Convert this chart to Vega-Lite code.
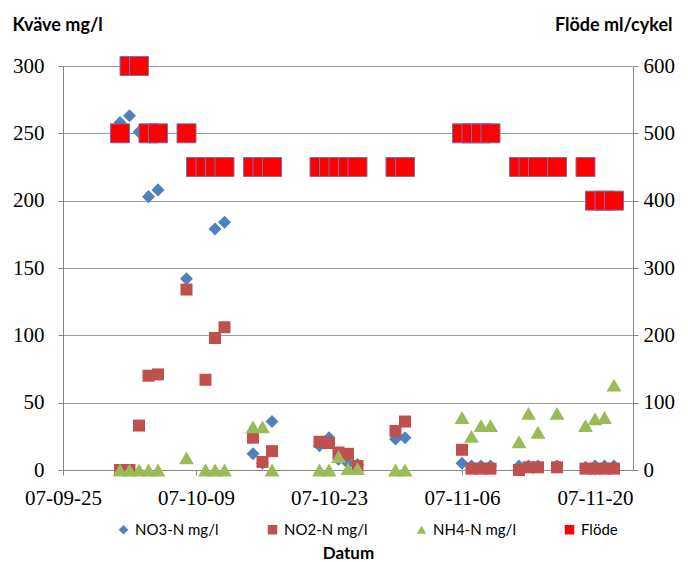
{
  "$schema": "https://vega.github.io/schema/vega-lite/v6.json",
  "width": 570,
  "height": 404,
  "autosize": {"type": "none"},
  "padding": {"left": 63, "top": 66, "right": 55, "bottom": 92},
  "background": "white",
  "config": {
    "view": {"stroke": null},
    "axis": {
      "domainColor": "#868686",
      "tickColor": "#868686",
      "gridColor": "#a0a0a0",
      "labelColor": "black",
      "titleColor": "black",
      "labelFont": "Liberation Serif",
      "labelFontSize": 21,
      "titleFont": "Lato",
      "titleFontWeight": "bold",
      "titleFontSize": 18,
      "tickSize": 5
    },
    "legend": {"labelFont": "Lato", "labelFontSize": 15, "labelColor": "black"}
  },
  "datasets": {
    "n": [
      {"date": "2007-10-01", "series": "NO3-N mg/l", "value": 258},
      {"date": "2007-10-02", "series": "NO3-N mg/l", "value": 263},
      {"date": "2007-10-03", "series": "NO3-N mg/l", "value": 251},
      {"date": "2007-10-04", "series": "NO3-N mg/l", "value": 203},
      {"date": "2007-10-05", "series": "NO3-N mg/l", "value": 208},
      {"date": "2007-10-08", "series": "NO3-N mg/l", "value": 142},
      {"date": "2007-10-11", "series": "NO3-N mg/l", "value": 179},
      {"date": "2007-10-12", "series": "NO3-N mg/l", "value": 184},
      {"date": "2007-10-15", "series": "NO3-N mg/l", "value": 12},
      {"date": "2007-10-16", "series": "NO3-N mg/l", "value": 5},
      {"date": "2007-10-17", "series": "NO3-N mg/l", "value": 36},
      {"date": "2007-10-22", "series": "NO3-N mg/l", "value": 18},
      {"date": "2007-10-23", "series": "NO3-N mg/l", "value": 24},
      {"date": "2007-10-24", "series": "NO3-N mg/l", "value": 8},
      {"date": "2007-10-25", "series": "NO3-N mg/l", "value": 5},
      {"date": "2007-10-26", "series": "NO3-N mg/l", "value": 4},
      {"date": "2007-10-30", "series": "NO3-N mg/l", "value": 23},
      {"date": "2007-10-31", "series": "NO3-N mg/l", "value": 24},
      {"date": "2007-11-06", "series": "NO3-N mg/l", "value": 5},
      {"date": "2007-11-07", "series": "NO3-N mg/l", "value": 3},
      {"date": "2007-11-08", "series": "NO3-N mg/l", "value": 3},
      {"date": "2007-11-09", "series": "NO3-N mg/l", "value": 3},
      {"date": "2007-11-12", "series": "NO3-N mg/l", "value": 3},
      {"date": "2007-11-13", "series": "NO3-N mg/l", "value": 3},
      {"date": "2007-11-14", "series": "NO3-N mg/l", "value": 3},
      {"date": "2007-11-16", "series": "NO3-N mg/l", "value": 3},
      {"date": "2007-11-19", "series": "NO3-N mg/l", "value": 2},
      {"date": "2007-11-20", "series": "NO3-N mg/l", "value": 3},
      {"date": "2007-11-21", "series": "NO3-N mg/l", "value": 3},
      {"date": "2007-11-22", "series": "NO3-N mg/l", "value": 3},
      {"date": "2007-10-01", "series": "NO2-N mg/l", "value": 0},
      {"date": "2007-10-02", "series": "NO2-N mg/l", "value": 0},
      {"date": "2007-10-03", "series": "NO2-N mg/l", "value": 33},
      {"date": "2007-10-04", "series": "NO2-N mg/l", "value": 70},
      {"date": "2007-10-05", "series": "NO2-N mg/l", "value": 71},
      {"date": "2007-10-08", "series": "NO2-N mg/l", "value": 134},
      {"date": "2007-10-10", "series": "NO2-N mg/l", "value": 67},
      {"date": "2007-10-11", "series": "NO2-N mg/l", "value": 98},
      {"date": "2007-10-12", "series": "NO2-N mg/l", "value": 106},
      {"date": "2007-10-15", "series": "NO2-N mg/l", "value": 24},
      {"date": "2007-10-16", "series": "NO2-N mg/l", "value": 6},
      {"date": "2007-10-17", "series": "NO2-N mg/l", "value": 14},
      {"date": "2007-10-22", "series": "NO2-N mg/l", "value": 21},
      {"date": "2007-10-23", "series": "NO2-N mg/l", "value": 20},
      {"date": "2007-10-24", "series": "NO2-N mg/l", "value": 13},
      {"date": "2007-10-25", "series": "NO2-N mg/l", "value": 12},
      {"date": "2007-10-26", "series": "NO2-N mg/l", "value": 3},
      {"date": "2007-10-30", "series": "NO2-N mg/l", "value": 29},
      {"date": "2007-10-31", "series": "NO2-N mg/l", "value": 36},
      {"date": "2007-11-06", "series": "NO2-N mg/l", "value": 15},
      {"date": "2007-11-07", "series": "NO2-N mg/l", "value": 1},
      {"date": "2007-11-08", "series": "NO2-N mg/l", "value": 1},
      {"date": "2007-11-09", "series": "NO2-N mg/l", "value": 1},
      {"date": "2007-11-12", "series": "NO2-N mg/l", "value": 0},
      {"date": "2007-11-13", "series": "NO2-N mg/l", "value": 2},
      {"date": "2007-11-14", "series": "NO2-N mg/l", "value": 2},
      {"date": "2007-11-16", "series": "NO2-N mg/l", "value": 2},
      {"date": "2007-11-19", "series": "NO2-N mg/l", "value": 1},
      {"date": "2007-11-20", "series": "NO2-N mg/l", "value": 1},
      {"date": "2007-11-21", "series": "NO2-N mg/l", "value": 1},
      {"date": "2007-11-22", "series": "NO2-N mg/l", "value": 1},
      {"date": "2007-10-01", "series": "NH4-N mg/l", "value": 0},
      {"date": "2007-10-02", "series": "NH4-N mg/l", "value": 0},
      {"date": "2007-10-03", "series": "NH4-N mg/l", "value": 0},
      {"date": "2007-10-04", "series": "NH4-N mg/l", "value": 0},
      {"date": "2007-10-05", "series": "NH4-N mg/l", "value": 0},
      {"date": "2007-10-08", "series": "NH4-N mg/l", "value": 9},
      {"date": "2007-10-10", "series": "NH4-N mg/l", "value": 0},
      {"date": "2007-10-11", "series": "NH4-N mg/l", "value": 0},
      {"date": "2007-10-12", "series": "NH4-N mg/l", "value": 0},
      {"date": "2007-10-15", "series": "NH4-N mg/l", "value": 32},
      {"date": "2007-10-16", "series": "NH4-N mg/l", "value": 32},
      {"date": "2007-10-17", "series": "NH4-N mg/l", "value": 0},
      {"date": "2007-10-22", "series": "NH4-N mg/l", "value": 0},
      {"date": "2007-10-23", "series": "NH4-N mg/l", "value": 0},
      {"date": "2007-10-24", "series": "NH4-N mg/l", "value": 10},
      {"date": "2007-10-25", "series": "NH4-N mg/l", "value": 1},
      {"date": "2007-10-26", "series": "NH4-N mg/l", "value": 1},
      {"date": "2007-10-30", "series": "NH4-N mg/l", "value": 0},
      {"date": "2007-10-31", "series": "NH4-N mg/l", "value": 0},
      {"date": "2007-11-06", "series": "NH4-N mg/l", "value": 39},
      {"date": "2007-11-07", "series": "NH4-N mg/l", "value": 25},
      {"date": "2007-11-08", "series": "NH4-N mg/l", "value": 33},
      {"date": "2007-11-09", "series": "NH4-N mg/l", "value": 33},
      {"date": "2007-11-12", "series": "NH4-N mg/l", "value": 21},
      {"date": "2007-11-13", "series": "NH4-N mg/l", "value": 42},
      {"date": "2007-11-14", "series": "NH4-N mg/l", "value": 28},
      {"date": "2007-11-16", "series": "NH4-N mg/l", "value": 42},
      {"date": "2007-11-19", "series": "NH4-N mg/l", "value": 33},
      {"date": "2007-11-20", "series": "NH4-N mg/l", "value": 38},
      {"date": "2007-11-21", "series": "NH4-N mg/l", "value": 39},
      {"date": "2007-11-22", "series": "NH4-N mg/l", "value": 63}
    ],
    "f": [
      {"date": "2007-10-01", "series": "Flöde", "value": 500},
      {"date": "2007-10-02", "series": "Flöde", "value": 600},
      {"date": "2007-10-03", "series": "Flöde", "value": 600},
      {"date": "2007-10-04", "series": "Flöde", "value": 500},
      {"date": "2007-10-05", "series": "Flöde", "value": 500},
      {"date": "2007-10-08", "series": "Flöde", "value": 500},
      {"date": "2007-10-09", "series": "Flöde", "value": 450},
      {"date": "2007-10-10", "series": "Flöde", "value": 450},
      {"date": "2007-10-11", "series": "Flöde", "value": 450},
      {"date": "2007-10-12", "series": "Flöde", "value": 450},
      {"date": "2007-10-15", "series": "Flöde", "value": 450},
      {"date": "2007-10-16", "series": "Flöde", "value": 450},
      {"date": "2007-10-17", "series": "Flöde", "value": 450},
      {"date": "2007-10-22", "series": "Flöde", "value": 450},
      {"date": "2007-10-23", "series": "Flöde", "value": 450},
      {"date": "2007-10-24", "series": "Flöde", "value": 450},
      {"date": "2007-10-25", "series": "Flöde", "value": 450},
      {"date": "2007-10-26", "series": "Flöde", "value": 450},
      {"date": "2007-10-30", "series": "Flöde", "value": 450},
      {"date": "2007-10-31", "series": "Flöde", "value": 450},
      {"date": "2007-11-06", "series": "Flöde", "value": 500},
      {"date": "2007-11-07", "series": "Flöde", "value": 500},
      {"date": "2007-11-08", "series": "Flöde", "value": 500},
      {"date": "2007-11-09", "series": "Flöde", "value": 500},
      {"date": "2007-11-12", "series": "Flöde", "value": 450},
      {"date": "2007-11-13", "series": "Flöde", "value": 450},
      {"date": "2007-11-14", "series": "Flöde", "value": 450},
      {"date": "2007-11-16", "series": "Flöde", "value": 450},
      {"date": "2007-11-19", "series": "Flöde", "value": 450},
      {"date": "2007-11-20", "series": "Flöde", "value": 400},
      {"date": "2007-11-21", "series": "Flöde", "value": 400},
      {"date": "2007-11-22", "series": "Flöde", "value": 400}
    ]
  },
  "encoding": {
    "x": {
      "field": "date",
      "type": "temporal",
      "scale": {
        "type": "utc",
        "domain": [
          {"year": 2007, "month": 9, "date": 25, "utc": true},
          {"year": 2007, "month": 11, "date": 24, "utc": true}
        ],
        "nice": false
      },
      "axis": {
        "values": [
          {"year": 2007, "month": 9, "date": 25, "utc": true},
          {"year": 2007, "month": 10, "date": 9, "utc": true},
          {"year": 2007, "month": 10, "date": 23, "utc": true},
          {"year": 2007, "month": 11, "date": 6, "utc": true},
          {"year": 2007, "month": 11, "date": 20, "utc": true}
        ],
        "labelExpr": "utcFormat(datum.value, '%y-%m-%d')",
        "labelFont": "Liberation Serif",
        "labelFontSize": 21,
        "grid": false,
        "labelPadding": 12,
        "labelFlush": false,
        "labelOverlap": false,
        "title": "Datum",
        "titleFontSize": 17,
        "titleY": 83,
        "titleBaseline": "middle"
      }
    },
    "color": {
      "field": "series",
      "type": "nominal",
      "scale": {
        "domain": ["NO3-N mg/l", "NO2-N mg/l", "NH4-N mg/l", "Flöde"],
        "range": ["#4F81BD", "#C0504D", "#9BBB59", "#FF0000"]
      },
      "legend": {
        "title": null,
        "orient": "none",
        "direction": "horizontal",
        "legendX": 53,
        "legendY": 456,
        "columns": 4,
        "columnPadding": 46,
        "symbolSize": 90,
        "labelOffset": 4,
        "symbolStrokeWidth": 0
      }
    },
    "shape": {
      "field": "series",
      "type": "nominal",
      "scale": {
        "domain": ["NO3-N mg/l", "NO2-N mg/l", "NH4-N mg/l", "Flöde"],
        "range": ["diamond", "square", "triangle-up", "square"]
      }
    }
  },
  "layer": [
    {
      "data": {"name": "n"},
      "encoding": {
        "y": {
          "field": "value",
          "type": "quantitative",
          "scale": {"domain": [0, 300], "nice": false},
          "axis": {
            "orient": "left",
            "values": [0, 50, 100, 150, 200, 250, 300],
            "grid": true,
            "labelPadding": 14,
            "title": "Kväve mg/l",
            "titleAngle": 0,
            "titleAlign": "left",
            "titleBaseline": "middle",
            "titleX": -51,
            "titleY": -41
          }
        }
      },
      "layer": [
        {
          "transform": [{"filter": "datum.series === 'NO3-N mg/l'"}],
          "mark": {"type": "point", "filled": true, "opacity": 1, "size": 170}
        },
        {
          "transform": [{"filter": "datum.series === 'NO2-N mg/l'"}],
          "mark": {"type": "point", "filled": true, "opacity": 1, "size": 144}
        },
        {
          "transform": [{"filter": "datum.series === 'NH4-N mg/l'"}],
          "mark": {"type": "point", "filled": true, "opacity": 1, "size": 220}
        }
      ]
    },
    {
      "data": {"name": "f"},
      "mark": {"type": "point", "filled": true, "opacity": 1, "size": 361, "stroke": "#7A6FB0", "strokeWidth": 1},
      "encoding": {
        "y": {
          "field": "value",
          "type": "quantitative",
          "scale": {"domain": [0, 600], "nice": false},
          "axis": {
            "orient": "right",
            "values": [0, 100, 200, 300, 400, 500, 600],
            "grid": false,
            "labelPadding": 5,
            "title": "Flöde ml/cykel",
            "titleAngle": 0,
            "titleAlign": "right",
            "titleBaseline": "middle",
            "titleX": 39,
            "titleY": -41
          }
        }
      }
    }
  ],
  "resolve": {"scale": {"y": "independent"}}
}
